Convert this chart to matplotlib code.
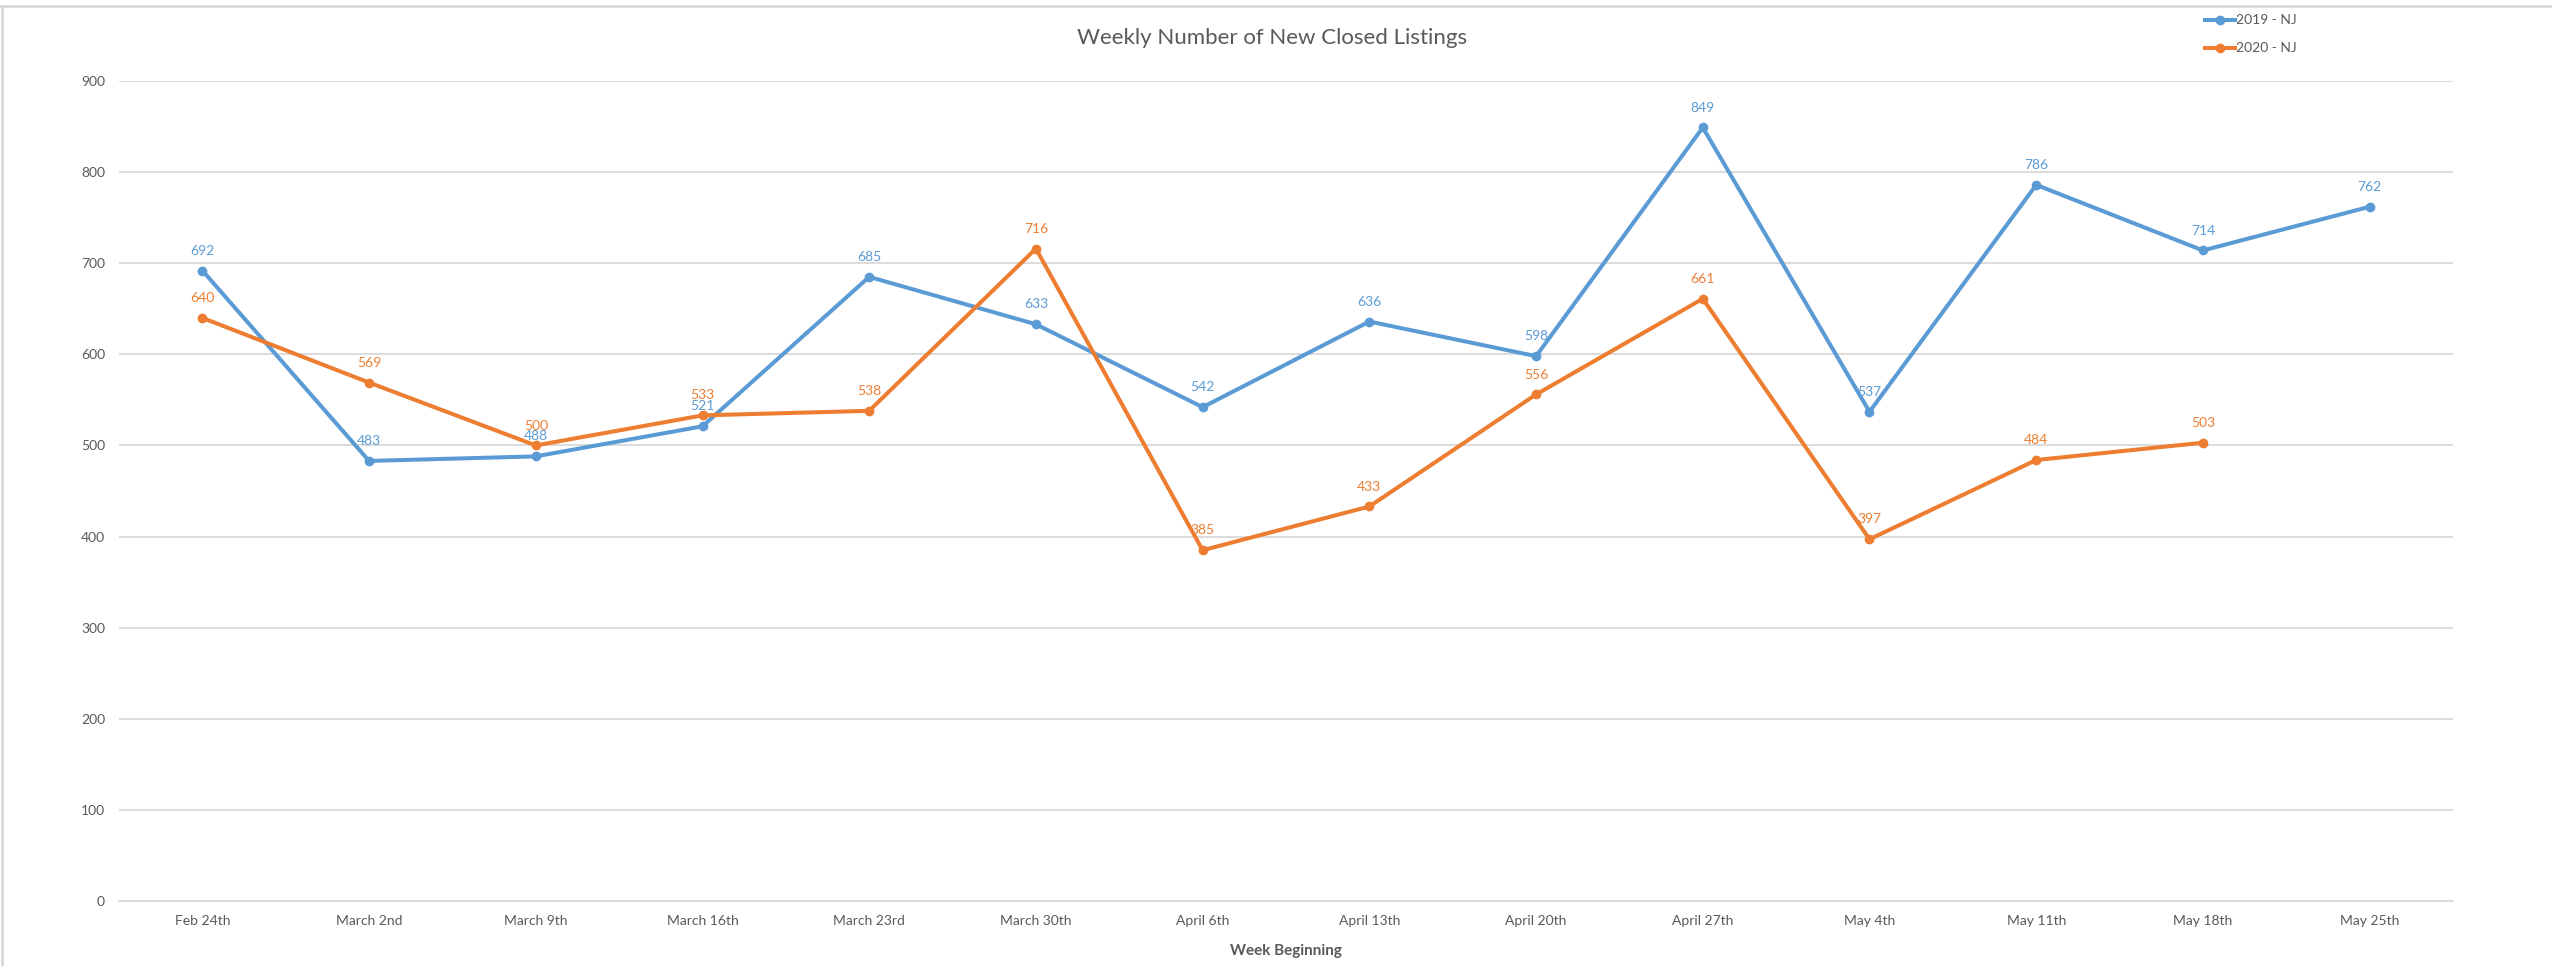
import matplotlib
matplotlib.use("Agg")
import matplotlib.pyplot as plt
from matplotlib.lines import Line2D

weeks = ["Feb 24th", "March 2nd", "March 9th", "March 16th", "March 23rd", "March 30th",
         "April 6th", "April 13th", "April 20th", "April 27th", "May 4th", "May 11th",
         "May 18th", "May 25th"]
nj_2019 = [692, 483, 488, 521, 685, 633, 542, 636, 598, 849, 537, 786, 714, 762]
nj_2020 = [640, 569, 500, 533, 538, 716, 385, 433, 556, 661, 397, 484, 503]
y_ticks = [0, 100, 200, 300, 400, 500, 600, 700, 800, 900]

BLUE = "#5B9BD5"
ORANGE = "#ED7D31"
TXT = "#595959"
GRID = "#D9D9D9"

plt.rcParams['font.family'] = ['Lato', 'DejaVu Sans']

W, H = 2552, 966
fig = plt.figure(figsize=(W / 100, H / 100), dpi=100)
ax = fig.add_axes([119 / W, 1 - 901 / H, (2453 - 119) / W, (901 - 81) / H])

x19 = list(range(len(nj_2019)))
x20 = list(range(len(nj_2020)))
ax.plot(x19, nj_2019, color=BLUE, lw=2.9, marker='o', ms=6, zorder=3, solid_capstyle='round')
ax.plot(x20, nj_2020, color=ORANGE, lw=2.9, marker='o', ms=6, zorder=4, solid_capstyle='round')

for xi, v in zip(x19, nj_2019):
    ax.annotate(str(v), (xi, v), xytext=(0, 10), textcoords='offset points',
                ha='center', va='bottom', color=BLUE, fontsize=10, zorder=5)
for xi, v in zip(x20, nj_2020):
    ax.annotate(str(v), (xi, v), xytext=(0, 10), textcoords='offset points',
                ha='center', va='bottom', color=ORANGE, fontsize=10, zorder=6)

ax.set_xlim(-0.5, len(weeks) - 0.5)
ax.set_ylim(0, 900)
ax.set_yticks(y_ticks)
ax.set_xticks(range(len(weeks)))
ax.set_xticklabels(weeks)
ax.tick_params(axis='both', length=0, labelsize=10, labelcolor=TXT)
ax.tick_params(axis='y', pad=10)
ax.tick_params(axis='x', pad=10)
ax.grid(axis='y', color=GRID, lw=1.3)
ax.set_axisbelow(True)
for s in ['top', 'right', 'left']:
    ax.spines[s].set_visible(False)
ax.spines['bottom'].set_color(GRID)
ax.spines['bottom'].set_linewidth(1.3)

ax.set_xlabel("Week Beginning", fontsize=11, fontweight='bold', color=TXT, labelpad=12)
fig.text(1272 / W, 1 - 38 / H, "Weekly Number of New Closed Listings", ha='center', va='center',
         fontsize=16, color=TXT)

handles = [Line2D([0], [0], color=BLUE, lw=2.9, marker='o', ms=6),
           Line2D([0], [0], color=ORANGE, lw=2.9, marker='o', ms=6)]
leg = fig.legend(handles, ["2019 - NJ", "2020 - NJ"], loc='upper left',
                 bbox_to_anchor=(2192 / W, 1 - 2 / H), frameon=False, fontsize=10,
                 handlelength=2.2, handletextpad=0.1, labelspacing=1.15, labelcolor=TXT)

# outer frame lines (top and left)
fig.add_artist(Line2D([0, 1], [1 - 5.5 / H, 1 - 5.5 / H], transform=fig.transFigure, color=GRID, lw=2))
fig.add_artist(Line2D([1.5 / W, 1.5 / W], [0, 1 - 5.5 / H], transform=fig.transFigure, color=GRID, lw=2))

fig.savefig("out.png", dpi=100, facecolor='white')
